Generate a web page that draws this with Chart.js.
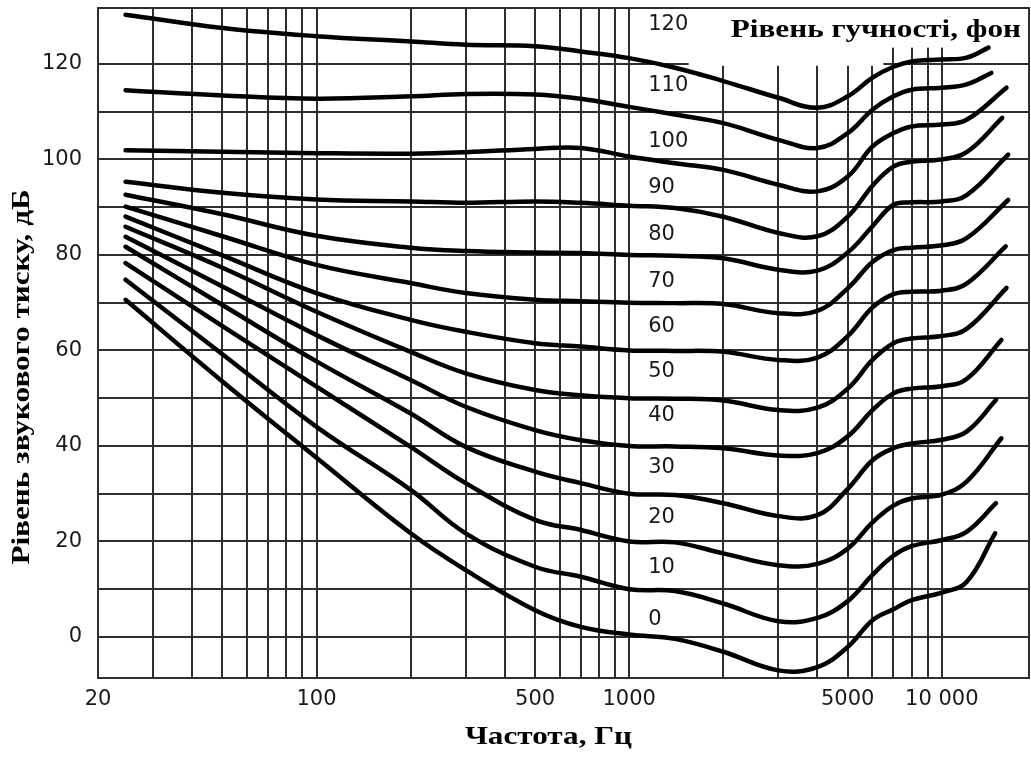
<!DOCTYPE html>
<html lang="uk">
<head>
<meta charset="utf-8">
<title>Криві рівної гучності</title>
<script src="https://cdn.jsdelivr.net/npm/chart.js@4.4.1/dist/chart.umd.min.js"></script>
<style>
  html, body { margin: 0; padding: 0; background: #fff; }
  #wrap { width: 1031px; height: 758px; position: relative; }
</style>
</head>
<body>
<div id="wrap"><canvas id="chart"></canvas></div>
<script>
// frequencies, Hz (shared by all curves; each curve also has its own end point)
const freqs = [24.5, 50, 100, 200, 300, 500, 700, 1000, 1400, 2000, 3000, 4000, 5000, 6000, 7000, 8000, 10000, 12000];

// loudness levels, phon
const phonLevels = [0, 10, 20, 30, 40, 50, 60, 70, 80, 90, 100, 110, 120];
const endFreqs = [14800, 14900, 15500, 14900, 15500, 16100, 16000, 16300, 16300, 15600, 16100, 14400, 14100];

// sound pressure level, dB (values at freqs, last one at endFreqs)
const phon0   = [70.6, 53.5, 37.5, 21.7, 14.0,  5.6,  2.1,  0.5, -0.4, -3.1, -7.0, -6.3, -2.1,  3.5,  5.8,  7.7,  9.3, 11.5, 21.7];
const phon10  = [74.8, 59.2, 44.0, 30.8, 21.7, 14.7, 12.6, 10.0,  9.6,  7.0,  3.3,  4.0,  7.5, 13.0, 17.0, 19.0, 20.3, 22.0, 28.0];
const phon20  = [78.3, 65.1, 52.4, 39.8, 32.2, 24.5, 22.4, 20.0, 19.8, 17.5, 15.0, 15.3, 18.5, 24.0, 27.5, 29.0, 29.8, 32.5, 41.6];
const phon30  = [81.7, 69.5, 57.7, 46.8, 39.8, 34.6, 32.2, 30.0, 29.7, 28.0, 25.3, 25.5, 31.0, 37.0, 39.5, 40.5, 41.3, 43.0, 49.6];
const phon40  = [83.8, 73.4, 63.2, 53.8, 48.2, 43.3, 41.2, 40.0, 39.9, 39.5, 38.0, 38.5, 42.0, 47.5, 51.0, 52.0, 52.5, 54.0, 62.2];
const phon50  = [85.9, 77.3, 68.1, 59.7, 55.2, 51.7, 50.6, 50.0, 49.9, 49.5, 47.5, 48.0, 52.0, 58.0, 61.5, 62.5, 63.0, 64.5, 73.1];
const phon60  = [88.0, 79.9, 72.0, 66.4, 63.9, 61.5, 60.8, 60.0, 59.9, 59.7, 58.0, 58.5, 63.0, 69.0, 71.8, 72.3, 72.5, 74.0, 81.8];
const phon70  = [90.1, 83.9, 77.9, 74.1, 72.0, 70.6, 70.3, 70.0, 69.9, 69.7, 67.8, 68.3, 73.0, 78.5, 81.0, 81.5, 82.0, 83.5, 91.5];
const phon80  = [92.6, 88.5, 84.0, 81.5, 80.8, 80.5, 80.4, 80.0, 79.8, 79.3, 76.9, 76.7, 80.5, 86.0, 90.5, 91.0, 91.2, 92.5, 101.0];
const phon90  = [95.3, 93.0, 91.6, 91.2, 90.9, 91.2, 90.9, 90.3, 89.8, 88.0, 84.6, 83.9, 88.0, 94.5, 98.5, 99.5, 100.0, 101.5, 108.7];
const phon100 = [101.9, 101.6, 101.3, 101.2, 101.5, 102.2, 102.4, 100.6, 99.2, 97.8, 94.7, 93.3, 96.4, 102.7, 105.5, 106.9, 107.3, 108.3, 115.0];
const phon110 = [114.5, 113.4, 112.7, 113.2, 113.7, 113.6, 112.7, 111.0, 109.4, 107.6, 104.1, 102.4, 105.5, 110.4, 113.2, 114.6, 115.0, 115.7, 118.1];
const phon120 = [130.3, 127.5, 125.8, 124.7, 124.0, 123.7, 122.6, 121.2, 119.2, 116.4, 112.9, 110.8, 113.2, 117.1, 119.4, 120.5, 120.9, 121.3, 123.4];

// curve captions: where each number sits (Hz, dB)
const curveLabelFreq = 1150;
const curveLabelLevels = [3.7, 14.5, 24.9, 35.4, 46.3, 55.5, 65, 74.4, 84.2, 94, 103.7, 115.4, 128.2];

// axes
const xGridFreqs = [20, 30, 40, 50, 60, 70, 80, 90, 100, 200, 300, 400, 500, 600, 700, 800, 900,
  1000, 2000, 3000, 4000, 5000, 6000, 7000, 8000, 9000, 10000];
const xLabelFreqs = [20, 100, 500, 1000, 5000, 10000];
const xLabelTexts = ['20', '100', '500', '1000', '5000', '10 000'];
const yGridLevels = [0, 10, 20, 30, 40, 50, 60, 70, 80, 90, 100, 110, 120];
const yLabelLevels = [0, 20, 40, 60, 80, 100, 120];

const xTitle = 'Частота, Гц';
const yTitle = 'Рівень звукового тиску, дБ';
const legendTitle = 'Рівень гучності, фон';

const gridColor = '#2e2e2e';
const tickFont = { family: '"DejaVu Sans", sans-serif', size: 21 };
const titleFontCss = 'bold 26px "Liberation Serif", "Times New Roman", serif';
const titleStretch = 1.2; // the source lettering is widened

const curves = [phon0, phon10, phon20, phon30, phon40, phon50, phon60, phon70, phon80, phon90, phon100, phon110, phon120];

const datasets = curves.map((vals, i) => ({
  label: phonLevels[i] + ' фон',
  data: vals.map((v, j) => ({ x: j < freqs.length ? freqs[j] : endFreqs[i], y: v })),
  borderColor: '#000',
  borderWidth: 4.5,
  borderCapStyle: 'round',
  borderJoinStyle: 'round',
  pointRadius: 0,
  tension: 0.4,
  fill: false,
}));

function wideText(ctx, text, x, y, align, baseline, rotated) {
  ctx.save();
  ctx.translate(x, y);
  if (rotated) ctx.rotate(-Math.PI / 2);
  ctx.scale(titleStretch, 1);
  ctx.textAlign = align;
  ctx.textBaseline = baseline;
  ctx.fillText(text, 0, 0);
  ctx.restore();
}

// white patch under the caption, plot frame, curve numbers and titles
const overlay = {
  id: 'overlay',
  beforeDatasetsDraw(chart) {
    const { ctx, chartArea: a, scales: { x, y } } = chart;
    ctx.save();
    ctx.fillStyle = '#fff';
    const x0 = x.getPixelForValue(1550);
    ctx.fillRect(x0, a.top + 1, a.right - 1 - x0, y.getPixelForValue(123.4) - a.top - 1);
    ctx.fillRect(x0, a.top + 1, x.getPixelForValue(6500) - x0, y.getPixelForValue(119.6) - a.top - 1);
    ctx.strokeStyle = gridColor;
    ctx.lineWidth = 2;
    ctx.strokeRect(a.left, a.top, a.right - a.left, a.bottom - a.top);
    ctx.restore();
  },
  afterDatasetsDraw(chart) {
    const { ctx, chartArea: a, scales: { x, y } } = chart;
    ctx.save();
    ctx.fillStyle = '#1a1a1a';
    ctx.font = `${tickFont.size}px ${tickFont.family}`;
    ctx.textAlign = 'left';
    ctx.textBaseline = 'middle';
    const lx = x.getPixelForValue(curveLabelFreq);
    phonLevels.forEach((p, i) => {
      ctx.fillText(String(p), lx, y.getPixelForValue(curveLabelLevels[i]));
    });
    ctx.fillStyle = '#000';
    ctx.font = titleFontCss;
    wideText(ctx, legendTitle, a.right - 8, a.top + 29, 'right', 'alphabetic', false);
    wideText(ctx, xTitle, (a.left + a.right) / 2 - 15, chart.height - 21, 'center', 'middle', false);
    wideText(ctx, yTitle, 22, (a.top + a.bottom) / 2 + 34, 'center', 'middle', true);
    ctx.restore();
  }
};

new Chart(document.getElementById('chart'), {
  type: 'line',
  data: { datasets },
  options: {
    responsive: true,
    maintainAspectRatio: false,
    animation: false,
    layout: { padding: { top: 8, right: 2, left: 0, bottom: 0 } },
    plugins: {
      legend: { display: false },
      tooltip: { enabled: false },
    },
    scales: {
      x: {
        type: 'logarithmic',
        min: 20,
        max: 19000,
        afterBuildTicks: scale => { scale.ticks = xGridFreqs.map(v => ({ value: v })); },
        afterFit: scale => {
          scale.height = 80;
          scale.paddingLeft = 0;
          scale.paddingRight = 0;
        },
        grid: { color: gridColor, lineWidth: 2, drawTicks: false },
        border: { display: false },
        ticks: {
          autoSkip: false,
          maxRotation: 0,
          padding: 9,
          color: '#1a1a1a',
          font: tickFont,
          callback: v => {
            const k = xLabelFreqs.indexOf(v);
            return k >= 0 ? xLabelTexts[k] : '';
          },
        },
      },
      y: {
        type: 'linear',
        min: -8.6,
        max: 131.7,
        afterBuildTicks: scale => { scale.ticks = yGridLevels.map(v => ({ value: v })); },
        afterFit: scale => {
          scale.width = 98;
          scale.paddingTop = 0;
          scale.paddingBottom = 0;
        },
        grid: { color: gridColor, lineWidth: 2, drawTicks: false },
        border: { display: false },
        ticks: {
          padding: 16,
          color: '#1a1a1a',
          font: tickFont,
          callback: v => (yLabelLevels.includes(v) ? String(v) : ''),
        },
      },
    },
  },
  plugins: [overlay],
});
</script>
</body>
</html>
